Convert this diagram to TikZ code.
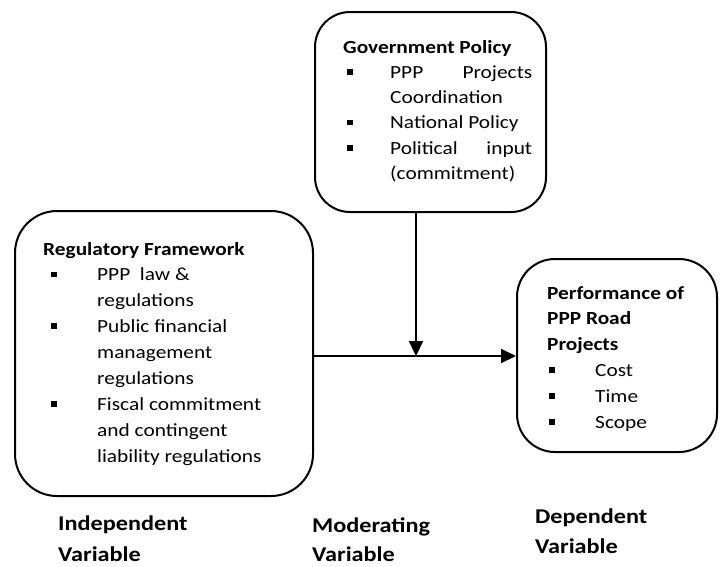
\documentclass[tikz,border=0pt]{standalone}
\usepackage{fontspec}
\setmainfont{Carlito}[FakeStretch=1.154]
\usetikzlibrary{arrows.meta}
\newcommand\sqb{\raisebox{3.5pt}{\rule{5.8pt}{5.8pt}}}
\newcommand\bitem[3]{\makebox[#2][l]{\hspace*{#1}\sqb}#3}
\tikzset{
  box/.style={draw, line width=2pt, inner sep=0pt},
  txt/.style={inner sep=0pt, anchor=base west},
  arr/.style={line width=2pt, -{Triangle[length=15pt,width=14pt]}},
}
\begin{document}
\begin{tikzpicture}[x=1pt,y=-1pt]
\useasboundingbox (0,0) rectangle (723,566);
% boxes
\node[box, rounded corners=35pt, minimum width=231pt, minimum height=200pt] (gov) at (430.5,112) {};
\node[box, rounded corners=42pt, minimum width=298pt, minimum height=285pt] (reg) at (164,353.5) {};
\node[box, rounded corners=38pt, minimum width=200pt, minimum height=193pt] (perf) at (617,355.5) {};
% texts
\node[txt] (govt) at (343,53) {\parbox[t]{200pt}{\fontsize{18.5}{25.3}\selectfont
\textbf{Government Policy}\\
\bitem{4pt}{47pt}{\hbox to 142pt{PPP\hfill Projects}}\\
\hspace*{47pt}Coordination\\
\bitem{4pt}{47pt}{National Policy}\\
\bitem{4pt}{47pt}{\hbox to 142pt{Political\hfill input}}\\
\hspace*{47pt}(commitment)}};
\node[txt] (regt) at (43,255) {\parbox[t]{262pt}{\fontsize{18.5}{25.9}\selectfont
\textbf{Regulatory Framework}\\
\bitem{8pt}{54pt}{PPP\ \ law \&}\\
\hspace*{54pt}regulations\\
\bitem{8pt}{54pt}{Public financial}\\
\hspace*{54pt}management\\
\hspace*{54pt}regulations\\
\bitem{8pt}{54pt}{Fiscal commitment}\\
\hspace*{54pt}and contingent\\
\hspace*{54pt}liability regulations}};
\node[txt] (perft) at (547,299) {\parbox[t]{165pt}{\fontsize{18.5}{25.8}\selectfont
\textbf{Performance of}\\
\textbf{PPP Road}\\
\textbf{Projects}\\
\bitem{2pt}{48pt}{Cost}\\
\bitem{2pt}{48pt}{Time}\\
\bitem{2pt}{48pt}{Scope}}};
% bottom labels
\node[txt] (ind) at (58,530) {\parbox[t]{160pt}{\fontsize{21}{31}\selectfont\bfseries Independent\\Variable}};
\node[txt] (mod) at (312,532) {\parbox[t]{160pt}{\fontsize{21}{29.5}\selectfont\bfseries Moderating\\Variable}};
\node[txt] (dep) at (535,523) {\parbox[t]{160pt}{\fontsize{21}{30.5}\selectfont\bfseries Dependent\\Variable}};
% connectors
\coordinate (mid) at (416,356);
\draw[arr] (gov.south -| mid) -- (mid);
\draw[arr] (reg.east |- mid) -- (perf.west |- mid);
\end{tikzpicture}
\end{document}
